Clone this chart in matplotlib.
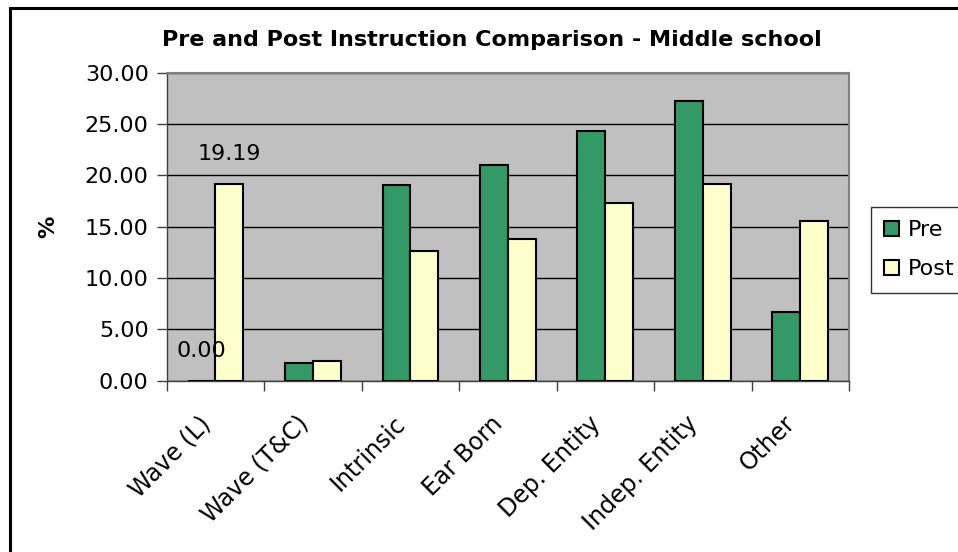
import numpy as np
import matplotlib
matplotlib.use("Agg")
import matplotlib.pyplot as plt
from matplotlib.patches import Rectangle
from matplotlib.transforms import ScaledTranslation

### DATA ###

categories = ["Wave (L)", "Wave (T&C)", "Intrinsic", "Ear Born",
              "Dep. Entity", "Indep. Entity", "Other"]
pre_values = [0.00, 1.75, 19.07, 21.01, 24.32, 27.24, 6.65]
post_values = [19.19, 1.95, 12.65, 13.81, 17.32, 19.19, 15.56]
y_ticks = [0, 5, 10, 15, 20, 25, 30]

### STYLE ###

PRE_COLOR = "#339966"
POST_COLOR = "#FFFFCC"
PLOT_BG = "#C0C0C0"
FS = 16

plt.rcParams["font.family"] = ["DejaVu Sans"]

fig = plt.figure(figsize=(9.58, 5.52), dpi=100)
ax = fig.add_axes([166.7 / 958, 1 - 380.7 / 552, (849 - 166.7) / 958, (380.7 - 72.7) / 552])
ax.set_facecolor(PLOT_BG)

x = np.arange(len(categories))
w = 1 / 3.5  # excel gap width 150%

bars_pre = ax.bar(x - w / 2, pre_values, w, color=PRE_COLOR, edgecolor="black",
                  linewidth=1.5, label="Pre", zorder=3)
bars_post = ax.bar(x + w / 2, post_values, w, color=POST_COLOR, edgecolor="black",
                   linewidth=1.5, label="Post", zorder=3)

# data labels only on the first category
for b, v in [(bars_pre[0], pre_values[0]), (bars_post[0], post_values[0])]:
    ax.annotate(f"{v:.2f}", (b.get_x() + b.get_width() / 2, v),
                xytext=(0, 21.5), textcoords="offset points",
                ha="center", va="center", fontsize=FS, zorder=4)

ax.set_xlim(-0.5, len(categories) - 0.5)
ax.set_ylim(0, 30)
ax.set_yticks(y_ticks)
ax.set_yticklabels([f"{t:.2f}" for t in y_ticks], fontsize=FS)
ax.yaxis.grid(True, color="black", linewidth=1.0, zorder=0)
ax.set_axisbelow(True)

# category ticks sit between groups, labels at group centres
ax.set_xticks(np.arange(len(categories) + 1) - 0.5)
ax.set_xticklabels([])
ax.set_xticks(x, minor=True)
ax.set_xticklabels(categories, minor=True, rotation=45, ha="right", va="top",
                   rotation_mode="anchor", fontsize=17)
ax.tick_params(axis="x", which="minor", length=0, pad=22)
ax.tick_params(axis="x", which="major", length=7, width=1, color="#404040")
ax.tick_params(axis="y", length=7, width=1, color="#404040", pad=6)
shift = ScaledTranslation(-0.17, 0, fig.dpi_scale_trans)
for lbl in ax.get_xticklabels(minor=True):
    lbl.set_transform(lbl.get_transform() + shift)

for side in ["top", "right"]:
    ax.spines[side].set_color("#808080")
    ax.spines[side].set_linewidth(1.5)
for side in ["left", "bottom"]:
    ax.spines[side].set_color("#404040")
    ax.spines[side].set_linewidth(1.0)

fig.text(48 / 958, 1 - 227 / 552, "%", rotation=90, ha="center", va="center",
         fontsize=FS, fontweight="bold")
fig.text(491.5 / 958, 1 - 40 / 552, "Pre and Post Instruction Comparison - Middle school",
         ha="center", va="center", fontsize=16, fontweight="bold")

leg = fig.legend(handles=[bars_pre, bars_post], labels=["Pre", "Post"],
                 loc="upper left", bbox_to_anchor=(871 / 958, 1 - 207 / 552),
                 fontsize=FS, frameon=True, fancybox=False, edgecolor="black",
                 handlelength=0.65, handleheight=0.65, handletextpad=0.4,
                 labelspacing=0.85, borderpad=0.6, borderaxespad=0)
leg.get_frame().set_linewidth(1.0)

# outer chart border (cut by the image edge on the right and bottom)
fig.add_artist(Rectangle((10 / 958, -0.1), 1.0, 1 - 8 / 552 + 0.1,
                         transform=fig.transFigure, fill=False,
                         edgecolor="black", linewidth=2.2, clip_on=False))

fig.savefig("out.png", dpi=100)
